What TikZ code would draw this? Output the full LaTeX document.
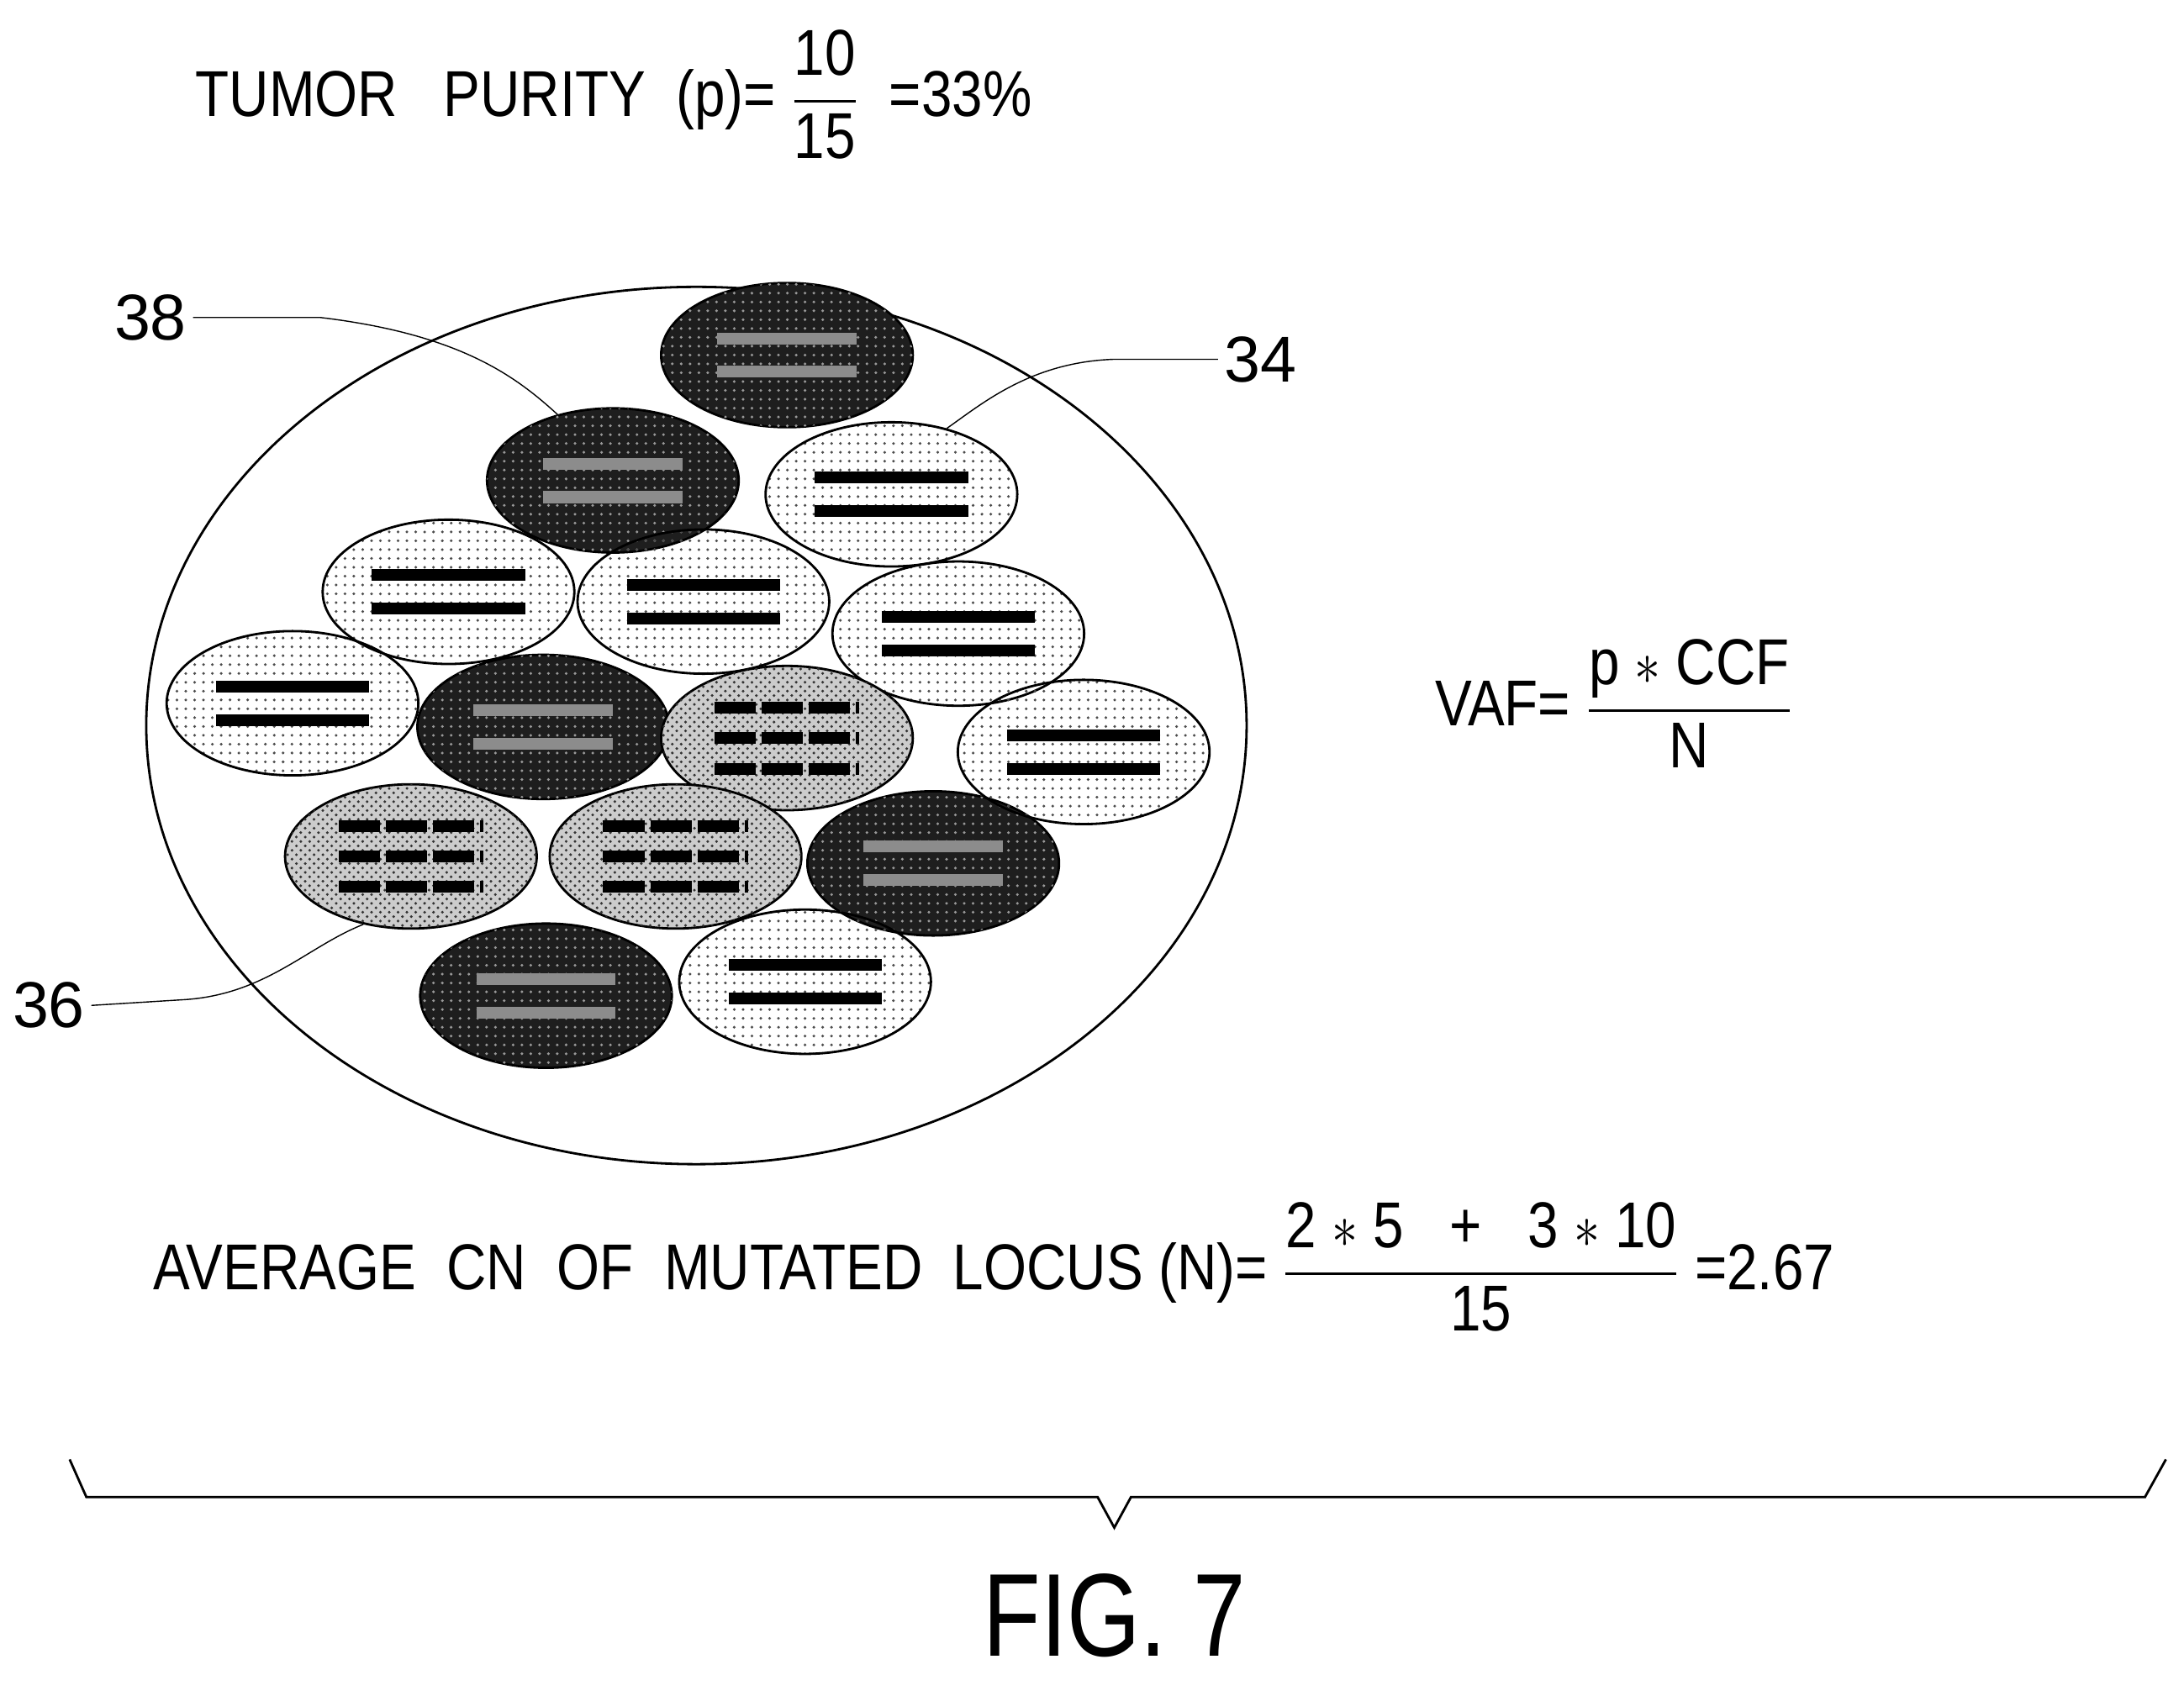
\documentclass[tikz,border=0pt]{standalone}
\usepackage{amsmath}
\usepackage{fontspec}
\setmainfont{Liberation Sans}
\usetikzlibrary{shapes.geometric,patterns}

\begin{document}
\begin{tikzpicture}[x=0.0166cm,y=-0.0166cm]

\definecolor{darkcell}{RGB}{30,30,30}
\tikzset{
  cell/.style={ellipse, draw, thick, minimum width=3cm, minimum height=1.72cm, inner sep=0pt},
  lightcell/.style={cell, pattern=dots, pattern color=black!70},
  midcell/.style={cell, fill=black!20, postaction={pattern=crosshatch dots, pattern color=black!80}},
  darkcellstyle/.style={cell, fill=darkcell, postaction={pattern=dots, pattern color=white!60!black}},
  bar/.style={line width=4pt},
  txt/.style={font=\fontsize{22}{24}\selectfont, xscale=0.85, inner sep=0pt},
  reflabel/.style={font=\fontsize{22}{24}\selectfont, inner sep=2pt}
}

\useasboundingbox (0,0) rectangle (1568,1214);

% Titel
\node[txt, anchor=west] (purity) at (140,68) {TUMOR\ \ \ PURITY\ \ (p)= $\dfrac{\mbox{10}}{\mbox{15}}$\ \ =33\%};

% Probe
\draw[thick] (500,521) ellipse [x radius=395, y radius=315];

% dunkle Zellen
\foreach \n/\x/\y in {d1/565/255, d2/440/345, d3/390/522, d4/670/620, d5/392/715}{
  \node[darkcellstyle] (\n) at (\x,\y) {};
  \draw[bar, black!45] (\x-50,\y-12) -- (\x+50,\y-12);
  \draw[bar, black!45] (\x-50,\y+12) -- (\x+50,\y+12);
}

% helle Zellen
\foreach \n/\x/\y in {l1/640/355, l2/322/425, l3/505/432, l4/688/455, l5/210/505, l6/778/540, l7/578/705}{
  \node[lightcell] (\n) at (\x,\y) {};
  \draw[bar] (\x-55,\y-12) -- (\x+55,\y-12);
  \draw[bar] (\x-55,\y+12) -- (\x+55,\y+12);
}

% mittlere Zellen
\foreach \n/\x/\y in {m1/565/530, m2/295/615, m3/485/615}{
  \node[midcell] (\n) at (\x,\y) {};
  \foreach \dy in {-22,0,22}
    \draw[bar, dash pattern=on 14pt off 2pt] (\x-52,\y+\dy) -- (\x+52,\y+\dy);
}

% Bezugszeichen
\node[reflabel] (n38) at (108,228) {38};
\node[reflabel] (n34) at (905,258) {34};
\node[reflabel] (n36) at (35,722) {36};
\draw (n38.east) -- (230,228) .. controls (330,240) and (370,270) .. (d2.130);
\draw (n34.west) -- (800,258) .. controls (740,260) and (705,290) .. (l1.50);
\draw (n36.east) -- (130,718) .. controls (190,715) and (220,680) .. (m2.235);

% Formeln
\node[txt, anchor=west] (vaf) at (1030,505) {VAF= $\dfrac{\mbox{p $*$ CCF}}{\mbox{N}}$};
\node[txt, anchor=west] (avgcn) at (110,910) {AVERAGE\ \ CN\ \ OF\ \ MUTATED\ \ LOCUS (N)= $\dfrac{\mbox{2 $*$ 5\ \ \ +\ \ \ 3 $*$ 10}}{\mbox{15}}$ =2.67};

% Klammer
\coordinate (bl) at (50,1048);
\coordinate (br) at (1555,1048);
\coordinate (tip) at (800,1097);
\draw[thick] (bl) -- (62,1075) -- (788,1075) -- (tip) -- (812,1075) -- (1540,1075) -- (br);

\node[font=\fontsize{40}{44}\selectfont, xscale=0.8] (fig) at (800,1160) {FIG. 7};

\end{tikzpicture}
\end{document}
